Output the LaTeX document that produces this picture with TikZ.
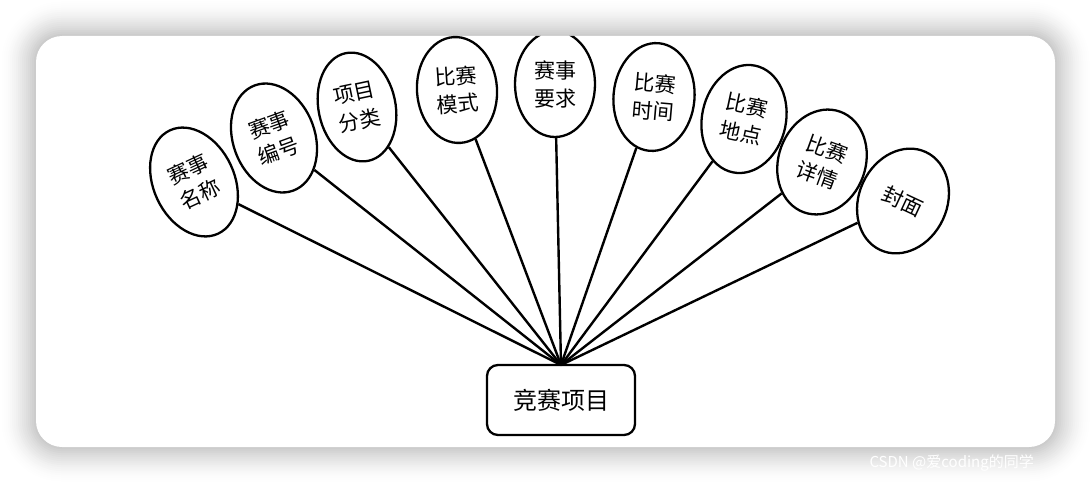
\documentclass[tikz,border=0pt]{standalone}
\usepackage{fontspec}
\newfontfamily\cjk{Noto Sans CJK SC}
\usetikzlibrary{shapes.geometric}
\begin{document}
\begin{tikzpicture}[x=1pt,y=-1pt,
  attr/.style={draw=black, line width=2.3pt, ellipse, inner sep=0pt, align=center,
    font=\cjk\fontsize{21}{28}\selectfont},
  conn/.style={draw=black, line width=2.4pt},
  entity/.style={draw=black, line width=2.3pt, rounded corners=11pt, minimum width=148pt,
    minimum height=70pt, inner sep=0pt, font=\cjk\fontsize{24}{28}\selectfont}]
\useasboundingbox (0,0) rectangle (1092,484);
% shadow background
\fill[white] (0,0) rectangle (1092,484);
\foreach \i in {0,...,18}{
  \pgfmathsetmacro{\off}{36-2*\i}
  \pgfmathsetmacro{\shade}{22*((\i/18)^1.6)}
  \fill[black!\shade, rounded corners=26+\off] (36-\off,36-\off) rectangle (1055+\off,447+\off);
}
\fill[white, rounded corners=26pt] (36,36) rectangle (1055,447);
\node[anchor=west, text=white, font=\cjk\fontsize{15}{18}\selectfont] (wm) at (866,463) {CSDN @爱coding的同学};
\begin{scope}
\clip[rounded corners=26pt] (36,36) rectangle (1055,447);
\node[attr, minimum width=81pt, minimum height=114pt, rotate=25] (n1) at (194,182) {赛事\\名称};
\node[attr, minimum width=82pt, minimum height=112pt, rotate=20] (n2) at (274,138) {赛事\\编号};
\node[attr, minimum width=77pt, minimum height=110pt, rotate=12] (n3) at (357,107) {项目\\分类};
\node[attr, minimum width=80pt, minimum height=106pt, rotate=4] (n4) at (457,90) {比赛\\模式};
\node[attr, minimum width=80pt, minimum height=106pt, rotate=0] (n5) at (555,84) {赛事\\要求};
\node[attr, minimum width=81pt, minimum height=108pt, rotate=-5] (n6) at (654,97) {比赛\\时间};
\node[attr, minimum width=84pt, minimum height=109pt, rotate=-12] (n7) at (744,119) {比赛\\地点};
\node[attr, minimum width=87pt, minimum height=107pt, rotate=-20] (n8) at (822,162) {比赛\\详情};
\node[attr, minimum width=88pt, minimum height=108pt, rotate=-25] (n9) at (903,201) {封面};
\node[entity] (e) at (561,400) {竞赛项目};
\coordinate (hub) at (561,365);
\foreach \n in {n1,n2,n3,n4,n5,n6,n7,n8,n9}{
  \draw[conn] (\n) -- (hub);
}
\end{scope}
\end{tikzpicture}
\end{document}
